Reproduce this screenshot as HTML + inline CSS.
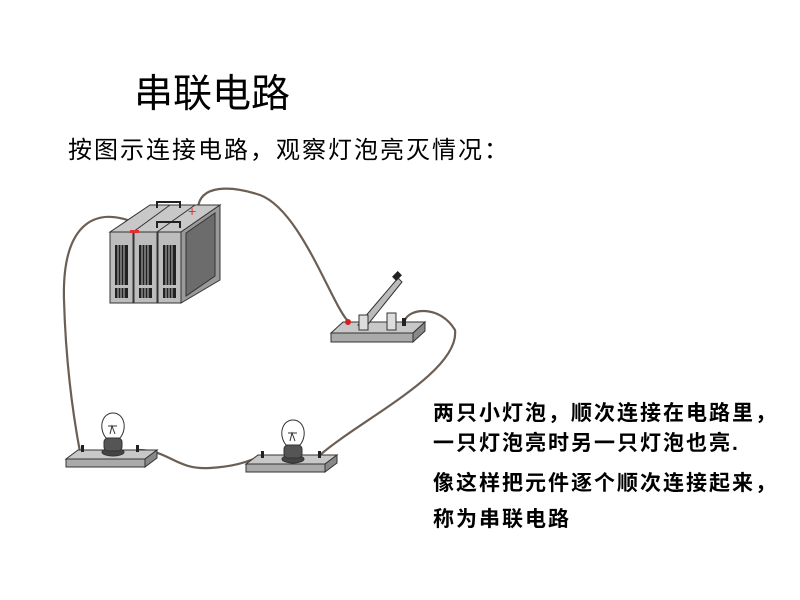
<!DOCTYPE html>
<html><head><meta charset="utf-8"><style>
body{margin:0;background:#fff;}
svg{display:block}
text{font-family:"Liberation Sans","Noto Sans CJK SC",sans-serif;fill:#000}
</style></head><body>
<svg width="800" height="600" viewBox="0 0 800 600" xmlns="http://www.w3.org/2000/svg">
<text x="134" y="107" font-size="39">串联电路</text>
<text x="68" y="158" font-size="24" letter-spacing="2">按图示连接电路，观察灯泡亮灭情况：</text>
<g font-size="21" font-weight="bold" letter-spacing="2">
<text x="433" y="420">两只小灯泡，顺次连接在电路里，</text>
<text x="433" y="450">一只灯泡亮时另一只灯泡也亮.</text>
<text x="433" y="490">像这样把元件逐个顺次连接起来，</text>
<text x="433" y="526">称为串联电路</text>
</g>
<!-- wires -->
<g fill="none" stroke="#6b5f55" stroke-width="2.2">
<path d="M133,222 C90,205 62,230 64,300 C66,370 74,420 80,452"/>
<path d="M198,208 C200,185 230,185 260,195 C300,210 330,300 347,320"/>
<path d="M405,320 C410,308 440,305 455,330 C460,372 360,420 320,455"/>
<path d="M138,450 C170,450 175,470 210,468 C240,466 250,460 262,456"/>
</g>
<!-- battery -->
<g stroke="#333" stroke-width="1">
<polygon points="110,232 181,232 220,205 150,205" fill="#c8c8c8"/>
<polygon points="181,232 220,205 220,280 181,303" fill="#9a9a9a"/>
<polygon points="186,233 215,213 215,276 186,296" fill="#6c6c6c"/>
<rect x="110" y="232" width="23" height="71" fill="#bdbdbd"/>
<rect x="134" y="232" width="23" height="71" fill="#bdbdbd"/>
<rect x="158" y="232" width="23" height="71" fill="#bdbdbd"/>
<line x1="133" y1="232" x2="170" y2="205"/><line x1="157" y1="232" x2="195" y2="205"/>
</g>
<g fill="#222">
<rect x="115" y="245" width="13" height="40"/><rect x="139" y="245" width="13" height="40"/><rect x="163" y="245" width="13" height="40"/>
<rect x="115" y="288" width="13" height="10"/><rect x="139" y="288" width="13" height="10"/><rect x="163" y="288" width="13" height="10"/>
</g>
<g stroke="#bdbdbd" stroke-width="1">
<line x1="118" y1="245" x2="118" y2="298"/><line x1="121" y1="245" x2="121" y2="298"/><line x1="124" y1="245" x2="124" y2="298"/>
<line x1="142" y1="245" x2="142" y2="298"/><line x1="145" y1="245" x2="145" y2="298"/><line x1="148" y1="245" x2="148" y2="298"/>
<line x1="166" y1="245" x2="166" y2="298"/><line x1="169" y1="245" x2="169" y2="298"/><line x1="172" y1="245" x2="172" y2="298"/>
</g>
<g fill="none" stroke="#222" stroke-width="2">
<path d="M157,208 v-6 h23 v6"/><path d="M157,228 v-6 h23 v6"/>
</g>
<rect x="130" y="230" width="9" height="3" fill="#e03030"/>
<text x="188" y="216" font-size="14" style="fill:#e03030">+</text>
<!-- switch -->
<g stroke="#333" stroke-width="1">
<polygon points="331,333 343,322 425,322 413,333" fill="#c8c8c8"/>
<rect x="331" y="333" width="82" height="9" fill="#aaa"/>
<polygon points="413,333 425,322 425,331 413,342" fill="#888"/>
<polygon points="358,325 398,278 402,282 365,328" fill="#bbb"/>
<rect x="359" y="315" width="9" height="15" fill="#ddd"/>
<rect x="387" y="313" width="9" height="17" fill="#ddd"/>
</g>
<rect x="393" y="273" width="8" height="6" fill="#222" transform="rotate(-45 397 276)"/>
<circle cx="348" cy="322" r="3" fill="#d02020"/>
<rect x="402" y="318" width="4" height="8" fill="#222"/>
<!-- bases -->
<g stroke="#333" stroke-width="1">
<polygon points="66,459 78,450 157,450 145,459" fill="#c8c8c8"/>
<rect x="66" y="459" width="79" height="8" fill="#aaa"/>
<polygon points="145,459 157,450 157,458 145,467" fill="#888"/>
<polygon points="246,464 258,455 337,455 325,464" fill="#c8c8c8"/>
<rect x="246" y="464" width="79" height="8" fill="#aaa"/>
<polygon points="325,464 337,455 337,463 325,472" fill="#888"/>
</g>
<!-- bulbs -->
<g stroke="#333" stroke-width="1">
<ellipse cx="113" cy="452" rx="11" ry="4" fill="#444"/>
<rect x="104" y="438" width="18" height="13" rx="4" fill="#555"/>
<path d="M106,438 C98,428 102,413 113,413 C124,413 128,428 120,438 Z" fill="#fff"/>
<ellipse cx="293" cy="459" rx="11" ry="4" fill="#444"/>
<rect x="284" y="445" width="18" height="13" rx="4" fill="#555"/>
<path d="M286,445 C278,435 282,420 293,420 C304,420 308,435 300,445 Z" fill="#fff"/>
</g>
<g fill="none" stroke="#333" stroke-width="1"><path d="M110,434 l2,-8 l3,8 M108,426 h9"/><path d="M290,441 l2,-8 l3,8 M288,433 h9"/></g>
<g fill="#222"><rect x="81" y="445" width="3" height="7"/><rect x="136" y="445" width="3" height="7"/><rect x="261" y="451" width="3" height="7"/><rect x="318" y="451" width="3" height="7"/></g>
</svg>
</body></html>
